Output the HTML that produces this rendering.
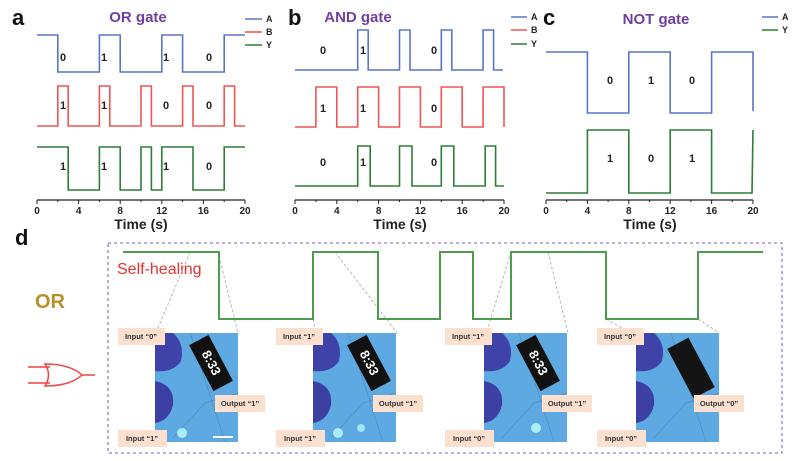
<!DOCTYPE html>
<html><head><meta charset="utf-8"><style>
html,body{margin:0;padding:0;background:#fff;}
svg{display:block;font-family:"Liberation Sans",sans-serif;}
.t{font-weight:bold;font-size:11px;fill:#222;}
.lab{font-weight:bold;font-size:7.5px;fill:#333;}
</style></head><body>
<svg width="800" height="461" viewBox="0 0 800 461" xmlns="http://www.w3.org/2000/svg">
<defs>
<g id="photo">
<rect x="0" y="0" width="83" height="109" fill="#5fa9e2"/>
<path d="M0 0 H18 Q30 10 26 28 Q18 40 0 38 Z" fill="#3f43a8"/>
<path d="M0 48 Q20 52 18 72 Q14 88 0 90 Z" fill="#3c40a2"/>
<path d="M18 105 L50 70 L83 60" stroke="#4d8fc4" stroke-width="0.8" fill="none"/>
<path d="M35 0 L70 109" stroke="#4d8fc4" stroke-width="0.8" fill="none"/>
</g>
</defs>

<!-- Panel letters -->
<text x="12" y="25" font-size="22" font-weight="bold" fill="#111">a</text>
<text x="288" y="25" font-size="22" font-weight="bold" fill="#111">b</text>
<text x="543" y="25" font-size="22" font-weight="bold" fill="#111">c</text>
<text x="15" y="245" font-size="22" font-weight="bold" fill="#111">d</text>

<!-- Titles -->
<text x="138" y="22" text-anchor="middle" font-size="15" font-weight="bold" fill="#7040a0">OR gate</text>
<text x="358" y="22" text-anchor="middle" font-size="15" font-weight="bold" fill="#7040a0">AND gate</text>
<text x="656" y="24" text-anchor="middle" font-size="15" font-weight="bold" fill="#7040a0">NOT gate</text>

<!-- Legends -->
<g font-size="9" font-weight="bold" fill="#222">
<line x1="245" y1="19" x2="262" y2="19" stroke="#5b74c8" stroke-width="1.5"/><text x="266" y="22">A</text>
<line x1="245" y1="32" x2="262" y2="32" stroke="#ee5555" stroke-width="1.5"/><text x="266" y="35">B</text>
<line x1="245" y1="45" x2="262" y2="45" stroke="#2e7d3a" stroke-width="1.5"/><text x="266" y="48">Y</text>
<line x1="511" y1="17" x2="527" y2="17" stroke="#5b74c8" stroke-width="1.5"/><text x="531" y="20">A</text>
<line x1="511" y1="30" x2="527" y2="30" stroke="#ee5555" stroke-width="1.5"/><text x="531" y="33">B</text>
<line x1="511" y1="44" x2="527" y2="44" stroke="#2e7d3a" stroke-width="1.5"/><text x="531" y="47">Y</text>
<line x1="762" y1="17" x2="778" y2="17" stroke="#5b74c8" stroke-width="1.5"/><text x="782" y="20">A</text>
<line x1="762" y1="30" x2="778" y2="30" stroke="#2e7d3a" stroke-width="1.5"/><text x="782" y="33">Y</text>
</g>

<g fill="none" stroke-width="1.6">
<!-- a -->
<polyline stroke="#5b74c8" points="37,35 57.8,35 57.8,72 99.4,72 99.4,35 120.2,35 120.2,72 161.8,72 161.8,35 182.6,35 182.6,72 224.2,72 224.2,35 245,35"/>
<polyline stroke="#ee5555" points="37,126 57.8,126 57.8,86 68.2,86 68.2,126 99.4,126 99.4,86 109.8,86 109.8,126 141,126 141,86 151.4,86 151.4,126 182.6,126 182.6,86 193,86 193,126 224.2,126 224.2,86 234.6,86 234.6,126 245,126"/>
<polyline stroke="#2e7d3a" points="37,147 68.2,147 68.2,190 99.4,190 99.4,147 120.2,147 120.2,190 141,190 141,147 151.4,147 151.4,190 161.8,190 161.8,147 193,147 193,190 224.2,190 224.2,147 245,147"/>
<!-- b -->
<polyline stroke="#5b74c8" points="295,70 357.7,70 357.7,30 368.2,30 368.2,70 399.5,70 399.5,30 410,30 410,70 441.3,70 441.3,30 451.8,30 451.8,70 483.1,70 483.1,30 493.6,30 493.6,70 503,70"/>
<polyline stroke="#ee5555" points="295,127 315.9,127 315.9,87 336.8,87 336.8,127 357.7,127 357.7,87 378.6,87 378.6,127 399.5,127 399.5,87 420.4,87 420.4,127 441.3,127 441.3,87 462.2,87 462.2,127 483.1,127 483.1,87 504,87 504,127"/>
<polyline stroke="#2e7d3a" points="295,186 357.7,186 357.7,146 370.2,146 370.2,186 399.5,186 399.5,146 412,146 412,186 441.3,186 441.3,146 453.8,146 453.8,186 485.2,186 485.2,146 495.6,146 495.6,186 504,186"/>
<!-- c -->
<polyline stroke="#5b74c8" points="546,52 587.4,52 587.4,113 628.8,113 628.8,52 670.2,52 670.2,113 711.6,113 711.6,52 753,52 753,111"/>
<polyline stroke="#2e7d3a" points="546,193 587.4,193 587.4,130 628.8,130 628.8,193 670.2,193 670.2,130 711.6,130 711.6,193 752,193 753,130"/>
</g>

<!-- trace labels -->
<g class="t">
<text x="60" y="61">0</text><text x="101" y="61">1</text><text x="163" y="61">1</text><text x="206" y="61">0</text>
<text x="60" y="109">1</text><text x="101" y="109">1</text><text x="163" y="109">0</text><text x="206" y="109">0</text>
<text x="60" y="170">1</text><text x="101" y="170">1</text><text x="163" y="170">1</text><text x="206" y="170">0</text>
<text x="320" y="54">0</text><text x="360" y="54">1</text><text x="431" y="54">0</text>
<text x="320" y="112">1</text><text x="360" y="112">1</text><text x="431" y="112">0</text>
<text x="320" y="166">0</text><text x="360" y="166">1</text><text x="431" y="166">0</text>
<text x="607" y="84">0</text><text x="648" y="84">1</text><text x="689" y="84">0</text>
<text x="607" y="162">1</text><text x="648" y="162">0</text><text x="689" y="162">1</text>
</g>

<!-- axes -->
<g stroke="#222" stroke-width="1.2">
<line x1="37" y1="200" x2="245" y2="200"/>
<line x1="295" y1="200" x2="504" y2="200"/>
<line x1="546" y1="200" x2="753" y2="200"/>
</g>
<g stroke="#222" stroke-width="1">
<path d="M37 200v4M57.8 200v2M78.6 200v4M99.4 200v2M120.2 200v4M141 200v2M161.8 200v4M182.6 200v2M203.4 200v4M224.2 200v2M245 200v4"/>
<path d="M295 200v4M315.9 200v2M336.8 200v4M357.7 200v2M378.6 200v4M399.5 200v2M420.4 200v4M441.3 200v2M462.2 200v4M483.1 200v2M504 200v4"/>
<path d="M546 200v4M566.7 200v2M587.4 200v4M608.1 200v2M628.8 200v4M649.5 200v2M670.2 200v4M690.9 200v2M711.6 200v4M732.3 200v2M753 200v4"/>
</g>
<g font-size="10" font-weight="bold" fill="#222" text-anchor="middle">
<text x="37" y="214">0</text><text x="78.6" y="214">4</text><text x="120.2" y="214">8</text><text x="161.8" y="214">12</text><text x="203.4" y="214">16</text><text x="245" y="214">20</text>
<text x="295" y="214">0</text><text x="336.8" y="214">4</text><text x="378.6" y="214">8</text><text x="420.4" y="214">12</text><text x="462.2" y="214">16</text><text x="504" y="214">20</text>
<text x="546" y="214">0</text><text x="587.4" y="214">4</text><text x="628.8" y="214">8</text><text x="670.2" y="214">12</text><text x="711.6" y="214">16</text><text x="753" y="214">20</text>
</g>
<g font-size="14" font-weight="bold" fill="#222" text-anchor="middle">
<text x="141" y="229">Time (s)</text><text x="400" y="229">Time (s)</text><text x="650" y="229">Time (s)</text>
</g>

<!-- Panel d -->
<text x="35" y="308" font-size="20" font-weight="bold" fill="#b8902a">OR</text>
<g stroke="#ee4444" stroke-width="1.5" fill="none">
<line x1="28" y1="367" x2="50" y2="367"/>
<line x1="28" y1="383" x2="50" y2="383"/>
<path d="M45 364 Q52 375 45 386 Q70 386 82 375 Q70 364 45 364 Z"/>
<line x1="82" y1="375" x2="95" y2="375"/>
</g>
<rect x="108" y="243" width="674" height="210" fill="none" stroke="#9a7cc8" stroke-width="1.3" stroke-dasharray="3,3"/>
<text x="117" y="274" font-size="16" fill="#e8322e">Self-healing</text>

<g stroke="#b8b8b8" stroke-width="1" stroke-dasharray="3,2" fill="none">
<line x1="190" y1="252" x2="158" y2="328"/><line x1="219" y1="256" x2="238" y2="333"/>
<line x1="313" y1="319" x2="315" y2="328"/><line x1="335" y1="252" x2="397" y2="333"/>
<line x1="511" y1="252" x2="488" y2="328"/><line x1="548" y1="252" x2="568" y2="333"/>
<line x1="606" y1="319" x2="622" y2="328"/><line x1="698" y1="319" x2="719" y2="333"/>
</g>
<polyline fill="none" stroke="#4e9a4e" stroke-width="2" points="123,252 219,252 219,319 313,319 313,252 378,252 378,319 440,319 440,252 473,252 473,319 511,319 511,252 606,252 606,319 698,319 698,252 763,252"/>

<!-- photos -->
<g transform="translate(155,333)"><use href="#photo"/>
<g transform="translate(56,30) rotate(-28)"><rect x="-11" y="-26" width="22" height="52" fill="#111"/><text transform="rotate(90)" x="0" y="4" font-size="13" font-weight="bold" fill="#fff" text-anchor="middle">8:33</text></g>
<circle cx="27" cy="100" r="5" fill="#bff" opacity="0.8"/><rect x="58" y="103" width="20" height="2" fill="#fff"/></g>
<g transform="translate(313,333)"><use href="#photo"/>
<g transform="translate(56,30) rotate(-28)"><rect x="-11" y="-26" width="22" height="52" fill="#111"/><text transform="rotate(90)" x="0" y="4" font-size="13" font-weight="bold" fill="#fff" text-anchor="middle">8:33</text></g>
<circle cx="25" cy="100" r="5" fill="#bff" opacity="0.8"/><circle cx="48" cy="95" r="4" fill="#bff" opacity="0.7"/></g>
<g transform="translate(484,333)"><use href="#photo"/>
<g transform="translate(54,30) rotate(-28)"><rect x="-11" y="-26" width="22" height="52" fill="#111"/><text transform="rotate(90)" x="0" y="4" font-size="13" font-weight="bold" fill="#fff" text-anchor="middle">8:33</text></g>
<circle cx="52" cy="95" r="5" fill="#bff" opacity="0.8"/></g>
<g transform="translate(636,333)"><use href="#photo"/>
<g transform="translate(55,35) rotate(-28)"><rect x="-12" y="-28" width="24" height="56" fill="#141414"/></g></g>

<!-- labels -->
<g fill="#fbe0d0">
<rect x="118" y="328" width="47" height="17"/><rect x="215" y="395" width="50" height="17"/><rect x="118" y="430" width="49" height="17"/>
<rect x="276" y="328" width="47" height="17"/><rect x="373" y="395" width="50" height="17"/><rect x="276" y="430" width="49" height="17"/>
<rect x="445" y="328" width="47" height="17"/><rect x="542" y="395" width="50" height="17"/><rect x="445" y="430" width="49" height="17"/>
<rect x="597" y="328" width="47" height="17"/><rect x="694" y="395" width="50" height="17"/><rect x="597" y="430" width="49" height="17"/>
</g>
<g class="lab" text-anchor="middle">
<text x="141" y="339">Input “0”</text><text x="240" y="406">Output “1”</text><text x="142" y="441">Input “1”</text>
<text x="299" y="339">Input “1”</text><text x="398" y="406">Output “1”</text><text x="300" y="441">Input “1”</text>
<text x="468" y="339">Input “1”</text><text x="567" y="406">Output “1”</text><text x="469" y="441">Input “0”</text>
<text x="620" y="339">Input “0”</text><text x="719" y="406">Output “0”</text><text x="621" y="441">Input “0”</text>
</g>
</svg>
</body></html>
